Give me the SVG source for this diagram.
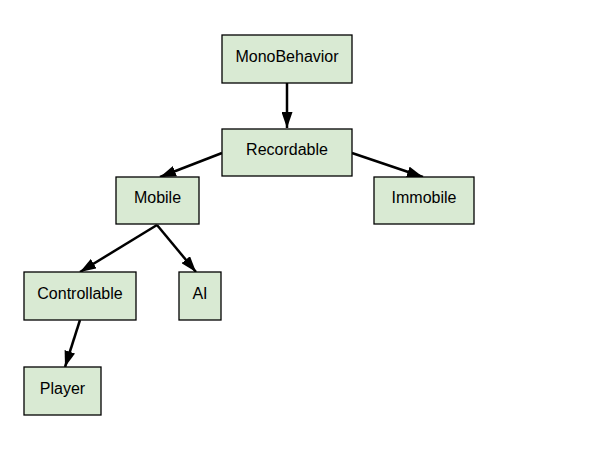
<svg xmlns="http://www.w3.org/2000/svg" width="612" height="451" viewBox="0 0 612 451">
<style>
.n rect{fill:#d9ead3;stroke:#000;stroke-width:1.3}
.n text{font-family:"Liberation Sans",Arial,sans-serif;font-size:16px;fill:#000;text-anchor:middle}
.c line{stroke:#000;stroke-width:2.5;marker-end:url(#a)}
</style>
<defs>
<marker id="a" viewBox="0 0 16 11" refX="16" refY="5.5" markerWidth="6.4" markerHeight="4.4" markerUnits="strokeWidth" orient="auto">
<path d="M0,0 L16,5.5 L0,11 z" fill="#000"/>
</marker>
</defs>
<rect width="612" height="451" fill="#fff"/>
<g id="connectors" class="c">
<line x1="287" y1="83" x2="287" y2="128"/>
<line x1="222" y1="153" x2="160" y2="177"/>
<line x1="352" y1="153" x2="423" y2="177"/>
<line x1="157" y1="225" x2="80" y2="272"/>
<line x1="157" y1="225" x2="196" y2="272"/>
<line x1="80" y1="320" x2="65" y2="367"/>
</g>
<g id="MonoBehavior" class="n"><rect x="222" y="35" width="130" height="48"/><text x="287" y="61.5">MonoBehavior</text></g>
<g id="Recordable" class="n"><rect x="222" y="129" width="130" height="47"/><text x="287" y="155">Recordable</text></g>
<g id="Mobile" class="n"><rect x="116" y="177" width="83" height="47"/><text x="157.5" y="203">Mobile</text></g>
<g id="Immobile" class="n"><rect x="374" y="177" width="100" height="47"/><text x="424" y="203">Immobile</text></g>
<g id="Controllable" class="n"><rect x="24" y="272" width="112" height="48"/><text x="80" y="298.5">Controllable</text></g>
<g id="AI" class="n"><rect x="179" y="272" width="42" height="48"/><text x="200" y="298.5">AI</text></g>
<g id="Player" class="n"><rect x="24" y="367" width="77" height="48"/><text x="62.5" y="393.5">Player</text></g>
</svg>
